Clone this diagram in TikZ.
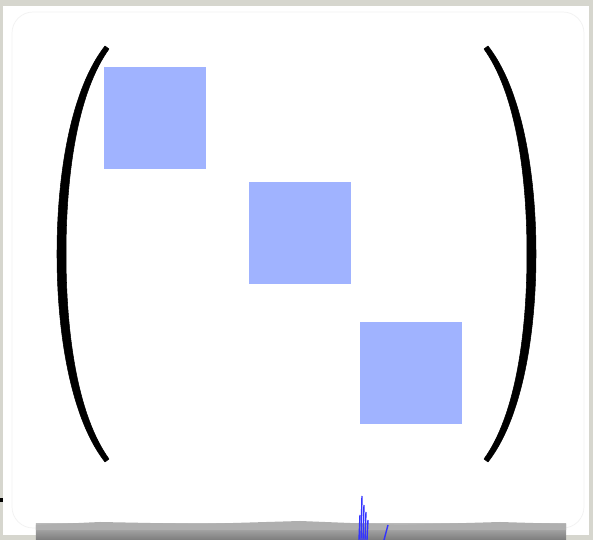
\documentclass[tikz,border=0pt]{standalone}
\usepackage{xcolor}
\usetikzlibrary{positioning,calc}

\definecolor{blockblue}{HTML}{A0B3FF}
\definecolor{framegray}{HTML}{D6D6CE}
\definecolor{smudgegray}{HTML}{6E6E6E}

\begin{document}
\begin{tikzpicture}[x=0.02cm, y=-0.02cm,
  block/.style={fill=blockblue, draw=none, minimum width=2.04cm, minimum height=2.04cm, inner sep=0pt, anchor=north west},
  paren/.style={fill=black, draw=black, line width=0.3pt, line join=round}
]
  % frame and page
  \fill[framegray] (0,0) rectangle (593,540);
  \useasboundingbox (0,0) rectangle (593,540);
  \fill[white] (3,6) rectangle (589,535);
  \draw[black!5, fill=white, rounded corners=12pt] (12,12) rectangle (584,528);
  \fill[black] (0,498) rectangle (3,502);

  % smudge along the bottom
  \shade[top color=smudgegray!50, bottom color=smudgegray!90] (36,524) rectangle (566,540);
  \fill[smudgegray!55] (36,525) -- (100,522) -- (200,524) -- (300,521) -- (400,525) -- (500,522) -- (566,524) -- (566,530) -- (36,530) -- cycle;
  \foreach \dx/\top in {0/496, 2/505, 4/512, -2/515, 6/520}
    \draw[blue!80, line width=0.8pt] (362+\dx,\top) -- (361+\dx,540);
  \draw[blue!80, line width=0.8pt] (388,525) -- (384,540);

  % diagonal blocks
  \node[block] (b1) at (104,67) {};
  \node[block] (b2) at (249,182) {};
  \node[block] (b3) at (360,322) {};

  % parentheses
  \fill[paren] (105,46) .. controls (72,88) and (57,170) .. (57,254)
               .. controls (57,338) and (72,420) .. (105,462)
               -- (109,459)
               .. controls (78,416) and (66,336) .. (66,254)
               .. controls (66,172) and (78,92) .. (109,49) -- cycle;
  \fill[paren] (488,46) .. controls (521,88) and (536,170) .. (536,254)
               .. controls (536,338) and (521,420) .. (488,462)
               -- (484,459)
               .. controls (515,416) and (527,336) .. (527,254)
               .. controls (527,172) and (515,92) .. (484,49) -- cycle;
\end{tikzpicture}
\end{document}
